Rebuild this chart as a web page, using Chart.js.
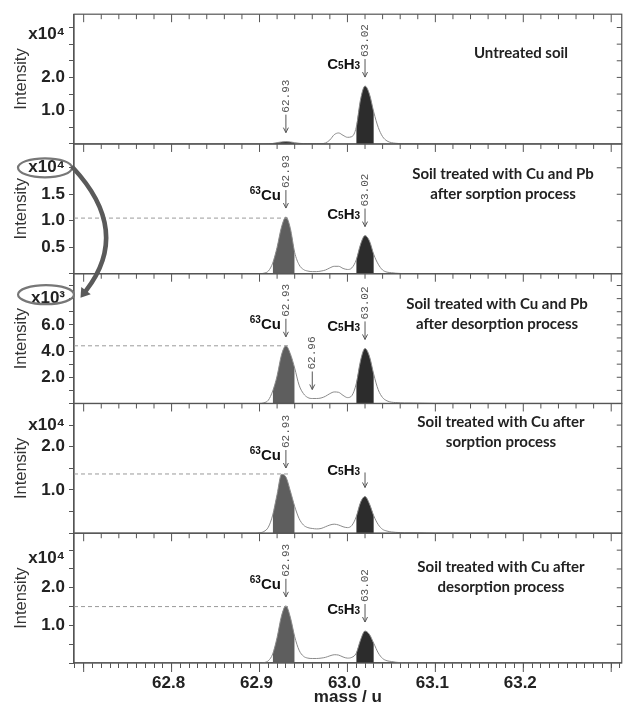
<!DOCTYPE html>
<html lang="en">
<head>
<meta charset="utf-8">
<title>Intensity vs mass</title>
<script src="https://cdn.jsdelivr.net/npm/chart.js@4.4.1/dist/chart.umd.min.js"></script>
<style>
  html, body { margin: 0; padding: 0; background: #ffffff; overflow: hidden; }
  #caixa { width: 625px; height: 712px; }
</style>
</head>
<body>
<div id="caixa"><canvas id="grafico"></canvas></div>
<script>
// mass points (u)
const massa = [62.69,
  62.895, 62.9, 62.905, 62.91, 62.915, 62.92, 62.925, 62.93, 62.935, 62.94,
  62.945, 62.95, 62.955, 62.96, 62.965, 62.97, 62.975, 62.98, 62.985, 62.99,
  62.995, 63.0, 63.005, 63.01, 63.015, 63.02, 63.025, 63.03, 63.035, 63.04,
  63.045, 63.05, 63.055, 63.06, 63.065, 63.08, 63.1, 63.312];

// intensities (x10^4, panel 3 x10^3)
const intensidade1 = [0,
  0, 0, 0, 0.005, 0.015, 0.04, 0.06, 0.07, 0.06, 0.04,
  0.02, 0.01, 0.01, 0.01, 0.01, 0.01, 0.03, 0.12, 0.28, 0.33,
  0.26, 0.2, 0.22, 0.5, 1.35, 1.74, 1.5, 0.95, 0.5, 0.22,
  0.09, 0.04, 0.02, 0.01, 0.01, 0.005, 0, 0];
const intensidade2 = [0,
  0, 0, 0.01, 0.05, 0.2, 0.5, 0.88, 1.07, 0.86, 0.4,
  0.17, 0.08, 0.05, 0.04, 0.04, 0.05, 0.07, 0.11, 0.14, 0.14,
  0.1, 0.08, 0.11, 0.26, 0.56, 0.72, 0.62, 0.36, 0.18, 0.07,
  0.03, 0.02, 0.01, 0.005, 0, 0, 0, 0];
const intensidade3 = [0,
  0, 0, 0.05, 0.25, 0.95, 2.1, 3.7, 4.4, 3.8, 2.7,
  1.4, 0.75, 0.45, 0.38, 0.38, 0.42, 0.55, 0.75, 0.88, 0.85,
  0.62, 0.45, 0.6, 1.5, 3.3, 4.2, 3.6, 2.2, 1.05, 0.45,
  0.2, 0.1, 0.07, 0.05, 0.04, 0.03, 0.01, 0];
const intensidade4 = [0,
  0, 0.01, 0.04, 0.14, 0.42, 0.9, 1.36, 1.3, 0.98, 0.62,
  0.34, 0.19, 0.13, 0.11, 0.1, 0.11, 0.15, 0.19, 0.21, 0.19,
  0.15, 0.13, 0.18, 0.38, 0.72, 0.85, 0.68, 0.4, 0.2, 0.09,
  0.05, 0.03, 0.02, 0.015, 0.01, 0.01, 0, 0];
const intensidade5 = [0,
  0, 0, 0.01, 0.06, 0.24, 0.68, 1.25, 1.52, 1.22, 0.7,
  0.34, 0.18, 0.13, 0.12, 0.12, 0.13, 0.15, 0.19, 0.22, 0.21,
  0.16, 0.13, 0.15, 0.26, 0.62, 0.85, 0.76, 0.52, 0.27, 0.12,
  0.06, 0.04, 0.02, 0.01, 0.005, 0, 0, 0];

const series = [intensidade1, intensidade2, intensidade3, intensidade4, intensidade5];

// y axes
const maxY = [3.9, 2.45, 9.9, 3.0, 3.45];
const passoY = [0.5, 0.5, 1, 0.5, 0.5];
const rotulosY = [[1, 2], [0.5, 1, 1.5], [2, 4, 6], [1, 2], [1, 2]];
const expoente = ['x10\u2074', 'x10\u2074', 'x10\u00b3', 'x10\u2074', 'x10\u2074'];
const posExpoente = [3, 2, 8, 2.5, 2.5];

// x axis labels
const rotulosX = [62.8, 62.9, 63.0, 63.1, 63.2];

// shaded peak windows
const faixaCu = [62.915, 62.94];
const faixaC5H3 = [63.01, 63.03];

// annotations
const titulos = [
  ['Untreated soil'],
  ['Soil treated with Cu and Pb', 'after sorption process'],
  ['Soil treated with Cu and Pb', 'after desorption process'],
  ['Soil treated with Cu after', 'sorption process'],
  ['Soil treated with Cu after', 'desorption process']
];
const nivelCu = [null, 1.05, 4.4, 1.37, 1.5];
const picos = [
  [{ m: 62.93, txt: '62.93' }, { m: 63.02, txt: '63.02', tag: 'C5H3' }],
  [{ m: 62.93, txt: '62.93', tag: 'Cu' }, { m: 63.02, txt: '63.02', tag: 'C5H3' }],
  [{ m: 62.93, txt: '62.93', tag: 'Cu' }, { m: 62.96, txt: '62.96' }, { m: 63.02, txt: '63.02', tag: 'C5H3' }],
  [{ m: 62.93, txt: '62.93', tag: 'Cu' }, { m: 63.02, tag: 'C5H3' }],
  [{ m: 62.93, txt: '62.93', tag: 'Cu' }, { m: 63.02, txt: '63.02', tag: 'C5H3' }]
];

const paineis = ['y1', 'y2', 'y3', 'y4', 'y5'];
const corCu = ['#2c2c2c', '#5e5e5e', '#5e5e5e', '#5e5e5e', '#5e5e5e'];
const corC5H3 = '#2c2c2c';
const topoTitulo = [39, 30, 30, 19, 34];
const centroTitulo = [521, 503, 497, 501, 501];
const fonteEixo = '"Liberation Sans", Arial, sans-serif';

const ctx = document.getElementById('grafico');

const pontos = (i, faixa) => massa
  .map((m, j) => ({ x: m, y: series[i][j] }))
  .filter(p => !faixa || (p.x >= faixa[0] - 1e-9 && p.x <= faixa[1] + 1e-9));

const datasets = [];
paineis.forEach((id, i) => {
  datasets.push({
    data: pontos(i), yAxisID: id, xAxisID: 'x',
    borderColor: '#8a8a8a', borderWidth: 1, pointRadius: 0,
    cubicInterpolationMode: 'monotone', fill: false, order: 0
  });
  datasets.push({
    data: pontos(i, faixaCu), yAxisID: id, xAxisID: 'x',
    borderWidth: 0, pointRadius: 0, backgroundColor: corCu[i],
    cubicInterpolationMode: 'monotone', fill: 'origin', order: 1
  });
  datasets.push({
    data: pontos(i, faixaC5H3), yAxisID: id, xAxisID: 'x',
    borderWidth: 0, pointRadius: 0, backgroundColor: corC5H3,
    cubicInterpolationMode: 'monotone', fill: 'origin', order: 1
  });
});

function eixoY(i) {
  return {
    type: 'linear', position: 'left', stack: 'paineis', stackWeight: 1,
    min: 0, max: maxY[i],
    border: { color: '#555', width: 1.2 },
    grid: { drawOnChartArea: false, tickLength: 5, color: '#555' },
    ticks: {
      stepSize: passoY[i], includeBounds: false, autoSkip: false, padding: 4, color: '#222',
      font: { family: fonteEixo, weight: 'bold', size: 17 },
      callback: v => {
        if (Math.abs(v - posExpoente[i]) < 1e-6) return i === 0 || i === 4 ? [expoente[i], ''] : expoente[i];
        return rotulosY[i].some(r => Math.abs(r - v) < 1e-6) ? v.toFixed(1) : '';
      }
    },
    title: {
      display: true, text: 'Intensity', color: '#333',
      font: { family: fonteEixo, size: 16.5 }, padding: { top: 12, bottom: 0 }
    },
    afterFit: s => { s.width = 74; }
  };
}

const escalas = {
  x: {
    type: 'linear', position: 'bottom', min: 62.689, max: 63.312,
    border: { color: '#555', width: 1.2 },
    grid: { drawOnChartArea: false, tickLength: 5, color: '#555' },
    ticks: {
      stepSize: 0.01, includeBounds: false, autoSkip: false, maxRotation: 0,
      padding: 5, labelOffset: -3, color: '#222',
      font: { family: fonteEixo, weight: 'bold', size: 17 },
      callback: v => {
        const r = rotulosX.find(x => Math.abs(x - v) < 1e-6);
        return r === undefined ? '' : r.toFixed(1);
      }
    },
    title: {
      display: true, text: 'mass / u', color: '#222',
      font: { family: fonteEixo, weight: 'bold', size: 17 }, padding: { top: 0, bottom: 4 }
    },
    afterFit: s => { s.height = 49; }
  }
};
for (let i = paineis.length - 1; i >= 0; i--) escalas[paineis[i]] = eixoY(i);

function desenhaTag(c, tag, xr, yc) {
  const partes = tag === 'Cu'
    ? [['63', 10, -6], ['Cu', 15, 0]]
    : [['C', 15, 0], ['5', 10, 0], ['H', 15, 0], ['3', 10, 0]];
  let largura = 0;
  partes.forEach(p => { c.font = 'bold ' + p[1] + 'px ' + fonteEixo; largura += c.measureText(p[0]).width; });
  let x = xr - largura;
  c.fillStyle = '#111';
  c.textAlign = 'left';
  c.textBaseline = 'alphabetic';
  partes.forEach(p => {
    c.font = 'bold ' + p[1] + 'px ' + fonteEixo;
    c.fillText(p[0], x, yc + 5 + p[2]);
    x += c.measureText(p[0]).width;
  });
}

function seta(c, x, y0, y1) {
  c.beginPath(); c.moveTo(x, y0); c.lineTo(x, y1); c.stroke();
  c.beginPath(); c.moveTo(x - 2.5, y1 - 5); c.lineTo(x, y1); c.lineTo(x + 2.5, y1 - 5); c.stroke();
}

const decoracao = {
  id: 'decoracao',
  afterDraw(chart) {
    const c = chart.ctx;
    const area = chart.chartArea;
    const sx = chart.scales.x;
    const L = area.left, R = area.right;
    c.save();
    // bottom axis: longer major ticks
    c.strokeStyle = '#555'; c.lineWidth = 1;
    sx.ticks.forEach(t => {
      if (Math.round(t.value * 100) % 10 !== 0) return;
      const px = sx.getPixelForValue(t.value);
      c.beginPath(); c.moveTo(px, area.bottom); c.lineTo(px, area.bottom + 9); c.stroke();
    });
    paineis.forEach((id, i) => {
      const sy = chart.scales[id];
      c.strokeStyle = '#555'; c.lineWidth = 1.2; c.setLineDash([]);
      c.strokeRect(L, sy.top, R - L, sy.bottom - sy.top);
      c.lineWidth = 1;
      sx.ticks.forEach(t => {
        const k = Math.round(t.value * 100);
        if (k % 2) return;
        const px = sx.getPixelForValue(t.value);
        c.beginPath(); c.moveTo(px, sy.top); c.lineTo(px, sy.top + (k % 10 === 0 ? 8 : 5)); c.stroke();
      });
      sy.ticks.forEach(t => {
        if (t.value <= 0) return;
        const py = sy.getPixelForValue(t.value);
        c.beginPath(); c.moveTo(R, py); c.lineTo(R - 5, py); c.stroke();
      });
      // dashed level of the Cu peak
      if (nivelCu[i] !== null) {
        const py = sy.getPixelForValue(nivelCu[i]);
        c.strokeStyle = '#9a9a9a'; c.setLineDash([4, 3]);
        c.beginPath(); c.moveTo(L, py); c.lineTo(sx.getPixelForValue(62.933), py); c.stroke();
        c.setLineDash([]);
      }
      // peak labels
      picos[i].forEach(p => {
        const j = massa.findIndex(m => Math.abs(m - p.m) < 1e-9);
        const px = sx.getPixelForValue(p.m);
        const topo = sy.getPixelForValue(series[i][j]);
        const ponta = topo - 9;
        c.strokeStyle = '#555'; c.lineWidth = 1;
        if (p.txt) {
          const base = ponta - 20;
          seta(c, px, base + 2, ponta);
          c.save();
          c.translate(px, base);
          c.rotate(-Math.PI / 2);
          c.font = '11px "Liberation Mono", "DejaVu Sans Mono", monospace';
          c.fillStyle = '#555'; c.textAlign = 'left'; c.textBaseline = 'middle';
          c.fillText(p.txt, 0, 0);
          c.restore();
          if (p.tag) desenhaTag(c, p.tag, px - 5, base + 7);
        } else {
          seta(c, px, ponta - 15, ponta);
          desenhaTag(c, p.tag, px - 5, ponta - 17);
        }
      });
      // panel title
      c.font = 'bold 15px Lato, "Open Sans", sans-serif';
      c.fillStyle = '#222'; c.textAlign = 'center'; c.textBaseline = 'middle';
      titulos[i].forEach((t, k) => c.fillText(t, centroTitulo[i], sy.top + topoTitulo[i] + k * 20));
    });
    // circled exponents and curved arrow between panels 2 and 3
    const s2 = chart.scales.y2, s3 = chart.scales.y3;
    const e1 = s2.getPixelForValue(posExpoente[1]);
    const e2 = s3.getPixelForValue(posExpoente[2]) - 4;
    c.strokeStyle = '#777'; c.lineWidth = 2.2;
    c.beginPath(); c.ellipse(45, e1, 27, 9.5, 0, 0, Math.PI * 2); c.stroke();
    c.beginPath(); c.ellipse(46, e2, 28, 9.5, 0, 0, Math.PI * 2); c.stroke();
    const cx = 132, cy = (e1 + e2) / 2;
    const fx = 86, fy = e2 - 4;
    c.strokeStyle = '#5a5a5a'; c.lineWidth = 4.5; c.lineCap = 'round';
    c.beginPath(); c.moveTo(73, e1); c.quadraticCurveTo(cx, cy, fx, fy); c.stroke();
    const dx = fx - cx, dy = fy - cy, n = Math.hypot(dx, dy);
    const ux = dx / n, uy = dy / n;
    c.fillStyle = '#5a5a5a';
    c.beginPath();
    c.moveTo(fx + ux * 9, fy + uy * 9);
    c.lineTo(fx - uy * 6, fy + ux * 6);
    c.lineTo(fx + uy * 6, fy - ux * 6);
    c.closePath(); c.fill();
    c.restore();
  }
};

new Chart(ctx, {
  type: 'line',
  data: { datasets: datasets },
  options: {
    responsive: true,
    maintainAspectRatio: false,
    animation: false,
    layout: { padding: { top: 14, right: 1, left: 0, bottom: 0 } },
    plugins: { legend: { display: false }, tooltip: { enabled: false } },
    scales: escalas
  },
  plugins: [decoracao]
});
</script>
</body>
</html>
